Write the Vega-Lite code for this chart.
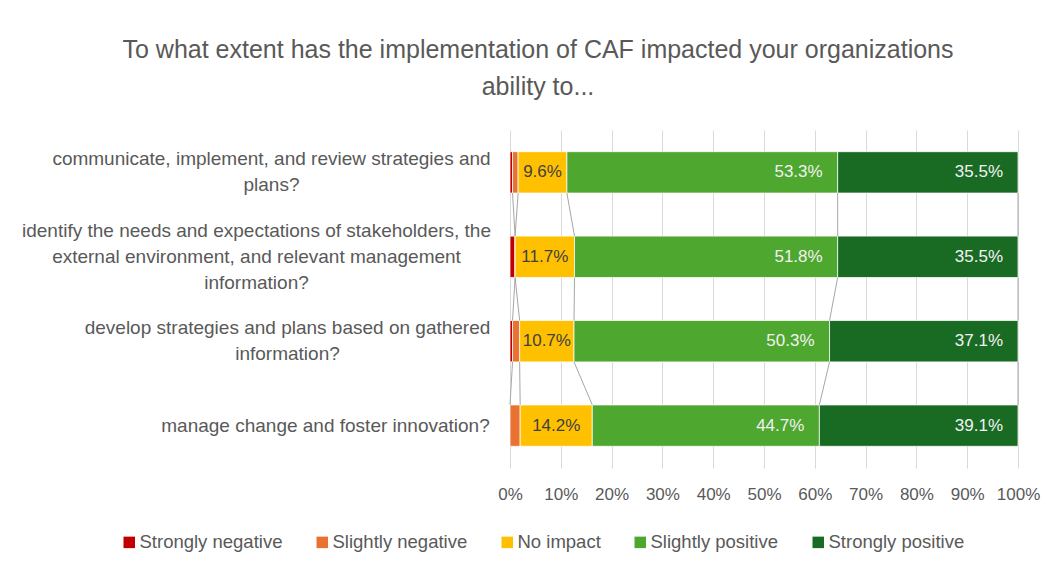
{
  "$schema": "https://vega.github.io/schema/vega-lite/v6.json",
  "width": 508,
  "height": 338,
  "autosize": "none",
  "padding": {"left": 510, "top": 130, "right": 38, "bottom": 102},
  "background": "white",
  "config": {
    "view": {"stroke": null},
    "font": "Liberation Sans",
    "axisX": {"grid": true, "gridColor": "#D9D9D9", "gridWidth": 1, "domain": false, "ticks": false, "labelPadding": 18, "labelFontSize": 17, "labelColor": "#595959", "labelFont": "Liberation Sans", "labelOverlap": false, "labelFlush": false, "labelBound": false, "title": null},
    "axisY": {"grid": false, "domain": false, "ticks": false, "labelColor": "#595959", "labelFont": "Liberation Sans", "labelFontSize": 19, "labelLineHeight": 26, "labelLimit": 600, "labelOverlap": false, "title": null}
  },
  "title": {
    "text": ["To what extent has the implementation of CAF impacted your organizations", "ability to..."],
    "anchor": "middle",
    "frame": "group",
    "dx": -226,
    "fontSize": 25,
    "font": "Liberation Sans",
    "fontWeight": "normal",
    "color": "#595959",
    "lineHeight": 37,
    "offset": 30
  },
  "data": {
    "values": [
      {"q": "communicate, implement, and review strategies and plans?", "qi": 1, "cat": "Strongly negative", "order": 1, "pct": 0.005},
      {"q": "communicate, implement, and review strategies and plans?", "qi": 1, "cat": "Slightly negative", "order": 2, "pct": 0.011},
      {"q": "communicate, implement, and review strategies and plans?", "qi": 1, "cat": "No impact", "order": 3, "pct": 0.096},
      {"q": "communicate, implement, and review strategies and plans?", "qi": 1, "cat": "Slightly positive", "order": 4, "pct": 0.533},
      {"q": "communicate, implement, and review strategies and plans?", "qi": 1, "cat": "Strongly positive", "order": 5, "pct": 0.355},
      {"q": "identify the needs and expectations of stakeholders, the external environment, and relevant management information?", "qi": 2, "cat": "Strongly negative", "order": 1, "pct": 0.010},
      {"q": "identify the needs and expectations of stakeholders, the external environment, and relevant management information?", "qi": 2, "cat": "Slightly negative", "order": 2, "pct": 0.0},
      {"q": "identify the needs and expectations of stakeholders, the external environment, and relevant management information?", "qi": 2, "cat": "No impact", "order": 3, "pct": 0.117},
      {"q": "identify the needs and expectations of stakeholders, the external environment, and relevant management information?", "qi": 2, "cat": "Slightly positive", "order": 4, "pct": 0.518},
      {"q": "identify the needs and expectations of stakeholders, the external environment, and relevant management information?", "qi": 2, "cat": "Strongly positive", "order": 5, "pct": 0.355},
      {"q": "develop strategies and plans based on gathered information?", "qi": 3, "cat": "Strongly negative", "order": 1, "pct": 0.005},
      {"q": "develop strategies and plans based on gathered information?", "qi": 3, "cat": "Slightly negative", "order": 2, "pct": 0.014},
      {"q": "develop strategies and plans based on gathered information?", "qi": 3, "cat": "No impact", "order": 3, "pct": 0.107},
      {"q": "develop strategies and plans based on gathered information?", "qi": 3, "cat": "Slightly positive", "order": 4, "pct": 0.503},
      {"q": "develop strategies and plans based on gathered information?", "qi": 3, "cat": "Strongly positive", "order": 5, "pct": 0.371},
      {"q": "manage change and foster innovation?", "qi": 4, "cat": "Strongly negative", "order": 1, "pct": 0.0},
      {"q": "manage change and foster innovation?", "qi": 4, "cat": "Slightly negative", "order": 2, "pct": 0.020},
      {"q": "manage change and foster innovation?", "qi": 4, "cat": "No impact", "order": 3, "pct": 0.142},
      {"q": "manage change and foster innovation?", "qi": 4, "cat": "Slightly positive", "order": 4, "pct": 0.447},
      {"q": "manage change and foster innovation?", "qi": 4, "cat": "Strongly positive", "order": 5, "pct": 0.391}
    ]
  },
  "layer": [
    {
      "mark": {"type": "bar", "stroke": "white", "strokeWidth": 0.75},
      "encoding": {
        "x": {"field": "pct", "type": "quantitative", "stack": "zero",
              "scale": {"domain": [0, 1], "nice": false},
              "axis": {"values": [0, 0.1, 0.2, 0.3, 0.4, 0.5, 0.6, 0.7, 0.8, 0.9, 1], "format": ".0%", "title": null}},
        "y": {"field": "q", "type": "nominal",
              "scale": {"domain": [
                "communicate, implement, and review strategies and plans?",
                "identify the needs and expectations of stakeholders, the external environment, and relevant management information?",
                "develop strategies and plans based on gathered information?",
                "manage change and foster innovation?"], "paddingInner": 0.51, "paddingOuter": 0.257},
              "axis": {"title": null, "labelAlign": "center", "labelBaseline": "middle",
                       "labelPadding": {"condition": [
                         {"test": "indexof(datum.value, 'communicate') == 0", "value": 239},
                         {"test": "indexof(datum.value, 'identify') == 0", "value": 254},
                         {"test": "indexof(datum.value, 'develop') == 0", "value": 223}
                       ], "value": 185},
                       "labelOffset": {"condition": [
                         {"test": "indexof(datum.value, 'communicate') == 0", "value": -13},
                         {"test": "indexof(datum.value, 'identify') == 0", "value": -26},
                         {"test": "indexof(datum.value, 'develop') == 0", "value": -13}
                       ], "value": 0},
                       "labelExpr": "indexof(datum.value, 'communicate') == 0 ? ['communicate, implement, and review strategies and', 'plans?'] : indexof(datum.value, 'identify') == 0 ? ['identify the needs and expectations of stakeholders, the', 'external environment, and relevant management', 'information?'] : indexof(datum.value, 'develop') == 0 ? ['develop strategies and plans based on gathered', 'information?'] : datum.value"}},
        "color": {"field": "cat", "type": "nominal",
                  "scale": {"domain": ["Strongly negative", "Slightly negative", "No impact", "Slightly positive", "Strongly positive"],
                            "range": ["#C00000", "#E97132", "#FFC000", "#4EA72E", "#196B24"]},
                  "legend": {"orient": "none", "direction": "horizontal", "legendX": -390, "legendY": 403, "title": null,
                             "symbolType": "square", "symbolSize": 132, "symbolStrokeWidth": 0,
                             "labelFontSize": 18.5, "labelColor": "#595959", "labelFont": "Liberation Sans",
                             "columnPadding": 30, "labelOffset": 1}},
        "order": {"field": "order", "type": "quantitative"}
      }
    },
    {
      "transform": [
        {"stack": "pct", "groupby": ["q"], "sort": [{"field": "order"}], "as": ["x0", "x1"]},
        {"window": [{"op": "lead", "field": "x1", "as": "x1n"}, {"op": "lead", "field": "q", "as": "qn"}], "groupby": ["cat"], "sort": [{"field": "qi"}]},
        {"filter": "datum.qn != null"}
      ],
      "mark": {"type": "rule", "color": "#A6A6A6", "strokeWidth": 1},
      "encoding": {
        "x": {"field": "x1", "type": "quantitative", "title": null},
        "x2": {"field": "x1n"},
        "y": {"field": "q", "type": "nominal", "bandPosition": 1, "title": null},
        "y2": {"field": "qn", "bandPosition": 0}
      }
    },
    {
      "mark": {"type": "text", "fontSize": 17, "color": "#404040", "align": "center", "baseline": "middle", "font": "Liberation Sans"},
      "encoding": {
        "x": {"field": "pct", "type": "quantitative", "stack": "zero", "bandPosition": 0.5, "title": null},
        "y": {"field": "q", "type": "nominal", "title": null},
        "detail": {"field": "cat"},
        "order": {"field": "order", "type": "quantitative"},
        "text": {"condition": {"test": "datum.cat == 'No impact'", "field": "pct", "type": "quantitative", "format": ".1%"}, "value": ""}
      }
    },
    {
      "mark": {"type": "text", "fontSize": 17, "color": "#F2F2F2", "align": "right", "baseline": "middle", "dx": -15, "font": "Liberation Sans"},
      "encoding": {
        "x": {"field": "pct", "type": "quantitative", "stack": "zero", "title": null},
        "y": {"field": "q", "type": "nominal", "title": null},
        "detail": {"field": "cat"},
        "order": {"field": "order", "type": "quantitative"},
        "text": {"condition": {"test": "datum.order >= 4", "field": "pct", "type": "quantitative", "format": ".1%"}, "value": ""}
      }
    }
  ]
}
